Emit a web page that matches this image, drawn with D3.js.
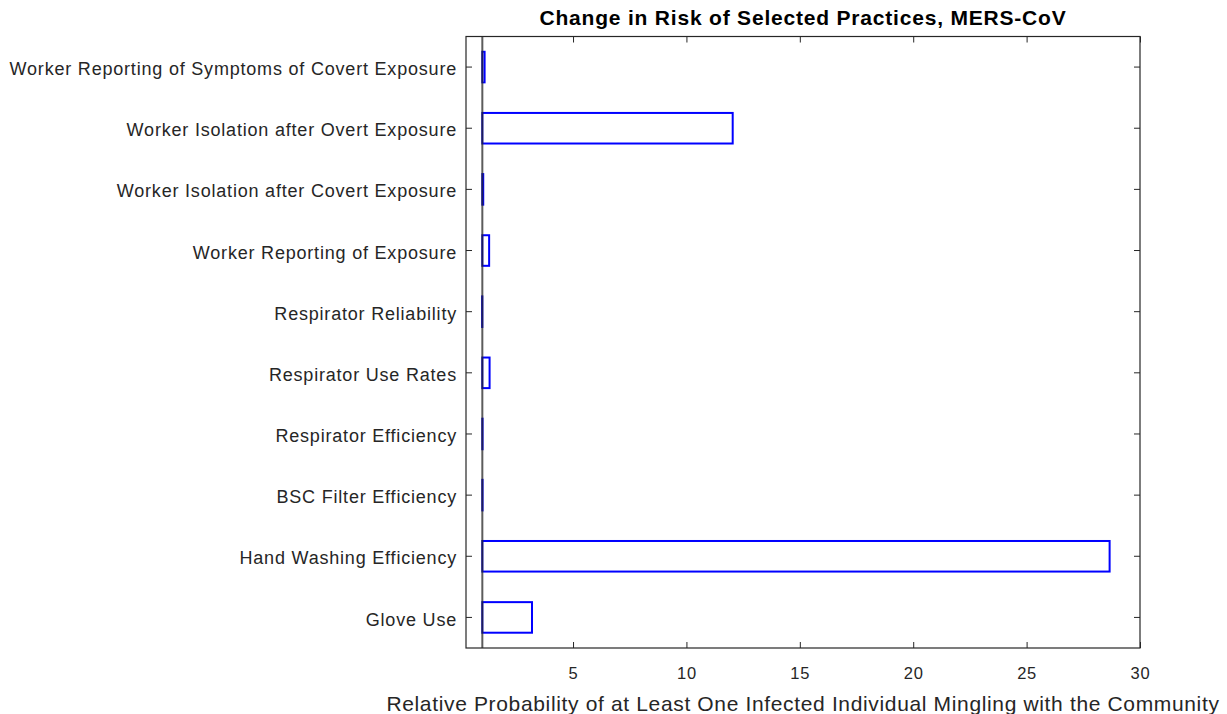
<!DOCTYPE html>
<html>
<head>
<meta charset="utf-8">
<script src="https://cdn.jsdelivr.net/npm/d3@7"></script>
<style>
  body { margin: 0; background: #fff; }
  svg { display: block; }
  text { font-family: "Liberation Sans", Arial, Helvetica, sans-serif; }
</style>
</head>
<body>
<svg id="chart" width="1227" height="714"></svg>
<script>
// Data (top to bottom)
const categories = [
  "Worker Reporting of Symptoms of Covert Exposure",
  "Worker Isolation after Overt Exposure",
  "Worker Isolation after Covert Exposure",
  "Worker Reporting of Exposure",
  "Respirator Reliability",
  "Respirator Use Rates",
  "Respirator Efficiency",
  "BSC Filter Efficiency",
  "Hand Washing Efficiency",
  "Glove Use"
];
const values = [1.1, 12.04, 1.04, 1.3, 0.99, 1.32, 1.01, 1.01, 28.66, 3.19];
const baselineValue = 1;
const xTicks = [5, 10, 15, 20, 25, 30];
const xDomain = [0.28, 30];
const titleText = "Change in Risk of Selected Practices, MERS-CoV";
const xLabelText = "Relative Probability of at Least One Infected Individual Mingling with the Community";

const svg = d3.select("#chart");
const L = 466, R = 1140, T = 36.5, B = 648;
const axisColor = "#262626";

const x = d3.scaleLinear().domain(xDomain).range([L, R]);
const y = d3.scaleBand().domain(categories).range([T, B]).paddingInner(0.5).paddingOuter(0.25);

// Bars
svg.append("g").selectAll("rect").data(categories).join("rect")
  .attr("x", (d, i) => x(Math.min(baselineValue, values[i])))
  .attr("y", d => y(d))
  .attr("width", (d, i) => Math.abs(x(values[i]) - x(baselineValue)))
  .attr("height", y.bandwidth())
  .attr("fill", "none")
  .attr("stroke", "#0000ff")
  .attr("stroke-width", 2);

// Baseline
svg.append("line")
  .attr("x1", x(baselineValue)).attr("x2", x(baselineValue))
  .attr("y1", T).attr("y2", B)
  .attr("stroke", axisColor).attr("stroke-width", 2).attr("opacity", 0.75);

// Axes
const tickLen = 6;
const bottomAxis = d3.axisBottom(x).tickValues(xTicks).tickSizeInner(-tickLen).tickSizeOuter(0).tickPadding(19).tickFormat(d3.format("d"));
const topAxis = d3.axisTop(x).tickValues(xTicks).tickSizeInner(-tickLen).tickSizeOuter(0).tickFormat("");
const leftAxis = d3.axisLeft(y).tickSizeInner(-tickLen).tickSizeOuter(0).tickPadding(9);
const rightAxis = d3.axisRight(y).tickSizeInner(-tickLen).tickSizeOuter(0).tickFormat("");

function styleAxis(g) {
  g.select(".domain").remove();
  g.selectAll(".tick line").attr("stroke", axisColor).attr("stroke-width", 1);
}

const gb = svg.append("g").attr("transform", `translate(0,${B})`).call(bottomAxis).call(styleAxis);
gb.selectAll("text").attr("fill", axisColor).attr("font-size", 16.5).style("letter-spacing", "0.8px");
svg.append("g").attr("transform", `translate(0,${T})`).call(topAxis).call(styleAxis);
const gl = svg.append("g").attr("transform", `translate(${L},0)`).call(leftAxis).call(styleAxis);
gl.selectAll("text").attr("fill", axisColor).attr("font-size", 18).attr("dy", "0.45em").style("letter-spacing", "0.8px");
svg.append("g").attr("transform", `translate(${R},0)`).call(rightAxis).call(styleAxis);

// Box
svg.append("rect")
  .attr("x", L).attr("y", T).attr("width", R - L).attr("height", B - T)
  .attr("fill", "none").attr("stroke", axisColor).attr("stroke-width", 1.2);

// Title
svg.append("text")
  .attr("x", (L + R) / 2).attr("y", 25)
  .attr("text-anchor", "middle")
  .attr("font-size", 21).attr("font-weight", "bold").attr("fill", "#000")
  .style("letter-spacing", "0.8px")
  .text(titleText);

// X label
svg.append("text")
  .attr("x", (L + R) / 2).attr("y", 711)
  .attr("text-anchor", "middle")
  .attr("font-size", 21).attr("fill", axisColor)
  .style("letter-spacing", "0.65px")
  .text(xLabelText);
</script>
</body>
</html>
